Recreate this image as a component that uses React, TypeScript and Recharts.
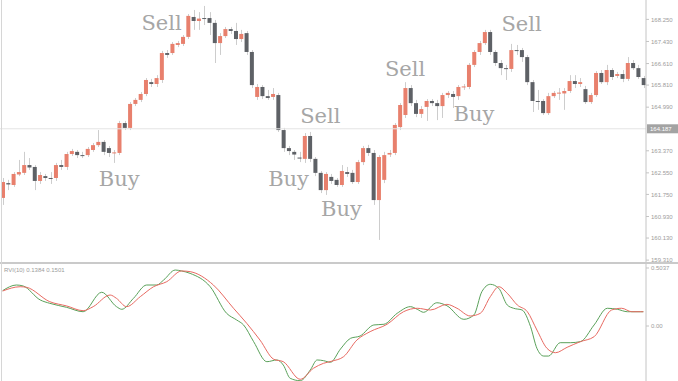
import { ComposedChart, Bar, XAxis, YAxis, ReferenceLine, ReferenceDot, LineChart, Line } from "recharts"

// candle prices, one entry per bar
const opens = [
  161.62, 162.17, 162.10, 162.49, 162.55, 162.84, 162.77, 162.25, 162.43, 162.36,
  162.36, 162.84, 162.77, 163.25, 163.33, 163.21, 163.21, 163.40, 163.58, 163.70,
  163.47, 163.29, 163.29, 164.40, 164.22, 165.11, 165.26, 165.48, 165.92, 165.85,
  166.00, 167.00, 167.00, 167.30, 167.34, 167.60, 168.34, 168.19, 168.30, 168.30,
  168.12, 167.37, 167.63, 167.89, 167.82, 167.52, 167.74, 167.04, 165.37, 165.74,
  165.40, 165.37, 165.44, 164.14, 163.47, 163.33, 163.12, 163.07, 163.92, 163.07,
  162.55, 161.91, 162.40, 162.29, 162.10, 162.58, 162.55, 162.21, 162.95, 163.47,
  163.29, 161.54, 162.29, 163.23, 163.29, 164.25, 164.70, 165.70, 165.14, 164.74,
  165.00, 165.22, 165.14, 165.03, 165.44, 165.48, 165.40, 165.74, 165.74, 166.56,
  167.04, 167.37, 167.78, 167.04, 166.63, 166.44, 166.41, 167.11, 167.11, 166.85,
  165.92, 165.22, 165.22, 164.77, 165.40, 165.52, 165.50, 165.59, 165.96, 165.85,
  165.66, 165.18, 165.44, 166.26, 165.92, 166.37, 166.15, 166.22, 166.04, 166.63,
  166.44, 166.07,
]
const closes = [
  162.21, 162.12, 162.51, 162.58, 162.84, 162.75, 162.25, 162.47, 162.36, 162.34,
  162.84, 162.77, 163.25, 163.36, 163.21, 163.20, 163.44, 163.58, 163.70, 163.33,
  163.29, 163.31, 164.40, 164.22, 165.11, 165.26, 165.48, 166.00, 165.85, 166.07,
  167.00, 166.93, 167.34, 167.37, 167.60, 168.38, 168.19, 168.28, 168.28, 168.12,
  167.37, 167.63, 167.89, 167.82, 167.52, 167.71, 167.04, 165.81, 165.74, 165.40,
  165.33, 165.48, 164.14, 163.47, 163.36, 163.23, 163.08, 163.92, 163.07, 162.55,
  161.91, 162.51, 162.25, 162.10, 162.62, 162.51, 162.21, 162.95, 163.47, 163.29,
  161.54, 163.14, 163.21, 163.29, 164.33, 165.07, 165.70, 165.14, 164.74, 164.92,
  165.22, 165.14, 165.03, 165.44, 165.52, 165.37, 165.74, 165.76, 166.56, 167.04,
  167.37, 167.78, 167.04, 166.63, 166.44, 166.41, 167.11, 167.09, 166.85, 165.92,
  165.22, 165.20, 164.77, 165.40, 165.52, 165.53, 165.59, 165.96, 165.85, 165.92,
  165.18, 165.44, 166.26, 165.92, 166.37, 166.11, 166.22, 166.04, 166.63, 166.44,
  166.11, 165.81,
]
const highs = [
  162.36, 162.29, 162.58, 163.03, 163.33, 163.10, 162.84, 162.58, 162.51, 162.58,
  162.92, 163.03, 163.33, 163.44, 163.40, 163.33, 163.51, 163.66, 164.14, 163.77,
  163.55, 163.40, 164.48, 164.48, 165.18, 165.33, 165.55, 166.07, 166.04, 166.18,
  167.08, 167.11, 167.41, 167.45, 167.67, 168.45, 168.60, 168.52, 168.75, 168.52,
  168.23, 167.74, 167.97, 167.97, 168.12, 167.86, 167.82, 167.11, 165.85, 165.81,
  165.63, 165.70, 165.52, 164.22, 163.55, 163.40, 163.33, 164.03, 164.07, 163.14,
  162.62, 162.58, 162.51, 162.36, 162.84, 162.77, 162.66, 163.03, 163.55, 163.59,
  163.40, 163.21, 163.33, 163.40, 164.40, 165.14, 165.92, 165.81, 165.26, 165.03,
  165.29, 165.29, 165.26, 165.52, 165.59, 165.59, 165.81, 165.85, 166.63, 167.11,
  167.45, 167.86, 167.86, 167.11, 166.74, 166.56, 167.34, 167.30, 167.19, 166.93,
  166.00, 165.63, 165.29, 165.52, 165.59, 165.70, 165.70, 166.18, 166.18, 166.07,
  165.78, 165.52, 166.33, 166.37, 166.56, 166.44, 166.30, 166.37, 166.85, 166.74,
  166.56, 166.15,
]
const lows = [
  161.36, 161.91, 162.03, 162.43, 162.47, 162.66, 161.91, 162.14, 162.25, 162.14,
  162.25, 162.66, 162.66, 163.18, 163.10, 163.10, 163.14, 163.33, 163.51, 163.21,
  163.14, 162.92, 163.21, 164.14, 164.14, 165.03, 165.18, 165.40, 165.74, 165.74,
  165.89, 166.82, 166.93, 167.22, 167.26, 167.52, 167.86, 167.86, 168.04, 167.67,
  166.63, 166.93, 167.56, 167.71, 167.30, 167.41, 166.93, 165.70, 165.26, 165.29,
  165.26, 165.26, 164.07, 163.33, 163.21, 163.03, 162.95, 162.92, 162.95, 162.43,
  161.80, 161.73, 162.14, 162.03, 162.03, 162.40, 162.14, 162.14, 162.84, 163.18,
  161.36, 160.06, 162.17, 163.14, 163.21, 164.14, 164.59, 165.03, 164.62, 164.59,
  164.48, 165.03, 164.51, 164.59, 165.33, 164.96, 165.26, 165.63, 165.66, 166.48,
  166.93, 167.30, 166.93, 166.52, 166.18, 166.00, 166.30, 166.93, 166.67, 165.81,
  164.81, 164.89, 164.70, 164.70, 165.33, 165.26, 164.89, 165.52, 165.70, 165.74,
  165.11, 165.11, 165.37, 165.85, 165.81, 166.00, 166.07, 165.92, 165.96, 166.37,
  166.04, 165.70,
]

const priceTicks = [159.31, 160.13, 160.93, 161.75, 162.55, 163.37, 164.99, 165.81, 166.61, 167.43, 168.25]
const lastPrice = 164.187

// Buy / Sell marks: text, bar index, price at the middle of the word
const signalText = ["Buy", "Sell", "Buy", "Sell", "Buy", "Sell", "Buy", "Sell"]
const signalBar = [22, 30, 54, 60, 64, 76, 89, 98]
const signalPrice = [162.35, 168.13, 162.34, 164.68, 161.21, 166.44, 164.77, 168.08]

// RVI(10) lines, sampled where the curves could be read (bar position, value)
const greenPos = [0, 2.6, 3.9, 7.1, 8.9, 12.1, 15.2, 18.7, 21.5, 22.5, 24.7, 27.2, 29.1, 30.4, 32.6, 33.8, 35.4, 39.2, 42.3, 44.2, 45.5, 47.4, 49.9, 51.8, 53, 54.3, 56.2, 58.1, 59.4, 60.6, 61.9, 63.8, 65.7, 67.5, 70.1, 72, 74.5, 77, 78.3, 79.5, 82, 83.9, 87.1, 89, 90.5, 92.1, 93.7, 95.3, 96.5, 98.1, 99.7, 100.9, 102.2, 103.1, 105.3, 107.2, 109.1, 111.7, 114.2, 116.1, 118, 120.5, 121]
const greenVal = [0.307, 0.356, 0.347, 0.226, 0.197, 0.162, 0.124, 0.293, 0.168, 0.145, 0.24, 0.356, 0.356, 0.399, 0.486, 0.478, 0.457, 0.341, 0.11, 0.052, 0.009, -0.136, -0.31, -0.295, -0.339, -0.454, -0.475, -0.382, -0.295, -0.301, -0.315, -0.2, -0.107, -0.087, 0.009, 0.015, 0.11, 0.168, 0.145, 0.119, 0.202, 0.176, 0.058, 0.096, 0.298, 0.362, 0.327, 0.182, 0.154, 0.139, -0.006, -0.194, -0.261, -0.261, -0.145, -0.145, -0.136, 0.009, 0.154, 0.145, 0.124, 0.124, 0.124]
const redPos = [0, 3.3, 4.5, 8.9, 12.1, 15.2, 17.1, 20.3, 21.5, 23.4, 26, 28.5, 31, 33.8, 35.4, 39.8, 43.6, 46.1, 48.6, 51.2, 53, 56.2, 58.7, 60.6, 62.2, 64.4, 66.9, 69.4, 72.6, 75.7, 78.3, 80.8, 83.9, 85.8, 88.3, 90.2, 92.1, 93.7, 95.3, 97.2, 99.1, 100.9, 102.8, 104.4, 106.6, 109.1, 111.7, 115, 116.9, 118.8, 120.5, 121]
const redVal = [0.304, 0.341, 0.336, 0.211, 0.174, 0.133, 0.168, 0.269, 0.24, 0.168, 0.255, 0.341, 0.385, 0.478, 0.472, 0.356, 0.154, 0.023, -0.122, -0.289, -0.31, -0.463, -0.367, -0.324, -0.305, -0.266, -0.122, -0.049, 0.015, 0.124, 0.154, 0.139, 0.188, 0.154, 0.087, 0.11, 0.255, 0.341, 0.284, 0.182, 0.124, -0.035, -0.194, -0.232, -0.185, -0.136, -0.093, 0.139, 0.154, 0.124, 0.124, 0.124]

const BULL = "#e8806d"
const BEAR = "#5e6166"
const WICK = "#cdcdcd"
const AXIS_GREY = "#c4c4c4"
const LABEL_GREY = "#9c9c9c"

const candles = opens.map((open, i) => ({ i, open, close: closes[i], high: highs[i], low: lows[i] }))
const greenData = greenPos.map((pos, k) => ({ pos, v: greenVal[k] }))
const redData = redPos.map((pos, k) => ({ pos, v: redVal[k] }))

const tickStyle = { fontSize: 6, fill: LABEL_GREY, fontFamily: "Liberation Sans" }

function Candle(props: any) {
  const { x, y, width, height, payload } = props
  if (x == null || !payload) return null
  const { open, close, high, low } = payload
  const h = Math.abs(height)
  const top = Math.min(y, y + height)
  const ppu = h / (high - low || 1)
  const bodyTop = top + (high - Math.max(open, close)) * ppu
  const bodyH = Math.max(1, Math.abs(open - close) * ppu)
  const cx = Math.round(x + width / 2) + 0.5
  return (
    <g>
      <line x1={cx} x2={cx} y1={top} y2={top + h} stroke={WICK} strokeWidth={1} />
      <rect x={x} y={bodyTop} width={width} height={bodyH} fill={close >= open ? BULL : BEAR} />
    </g>
  )
}

function PriceTag(props: any) {
  const vb = props.viewBox
  if (!vb) return null
  const left = vb.x + vb.width + 1
  return (
    <g>
      <rect x={left} y={vb.y - 4.5} width={31} height={9} fill="#a3a3a3" />
      <text x={left + 3} y={vb.y + 2} fontSize={6} fill="#ffffff" fontFamily="Liberation Sans">
        {lastPrice.toFixed(3)}
      </text>
    </g>
  )
}

export default function App() {
  return (
    <div style={{ position: "absolute", left: 0, top: 0, width: 678, height: 381, background: "#fff", overflow: "hidden" }}>
      <ComposedChart width={678} height={262} data={candles} margin={{ top: 0, right: 0, bottom: 0, left: 0 }}>
        <XAxis dataKey="i" hide />
        <YAxis
          orientation="right"
          width={32}
          domain={[159.24, 168.97]}
          allowDataOverflow
          ticks={priceTicks}
          interval={0}
          tickFormatter={(v: number) => v.toFixed(3)}
          tick={tickStyle}
          tickSize={3}
          tickLine={{ stroke: AXIS_GREY }}
          axisLine={{ stroke: AXIS_GREY }}
        />
        <ReferenceLine y={lastPrice} stroke="#e4e4e4" label={<PriceTag />} />
        <Bar
          dataKey={(d: any) => [d.low, d.high]}
          barSize={4}
          shape={<Candle />}
          isAnimationActive={false}
        />
        {signalText.map((t, k) => (
          <ReferenceDot
            key={k}
            x={signalBar[k]}
            y={signalPrice[k]}
            r={0}
            fill="none"
            stroke="none"
            label={{ value: t, position: "center", fill: "#a6a6a6", fontSize: 21, fontFamily: "DejaVu Serif" }}
          />
        ))}
      </ComposedChart>
      <div style={{ position: "absolute", left: 0, top: 262, width: 678, height: 2, background: "#cacaca" }} />
      <div style={{ position: "absolute", left: 1, top: 0, width: 1, height: 381, background: "#d6d6d6" }} />
      <div style={{ position: "absolute", top: 264, left: 0 }}>
        <LineChart width={678} height={117} margin={{ top: 0, right: 0, bottom: 0, left: 0 }}>
          <XAxis type="number" dataKey="pos" domain={[-0.5, 121.5]} allowDataOverflow hide />
          <YAxis
            orientation="right"
            width={32}
            domain={[-0.4776, 0.5384]}
            allowDataOverflow
            ticks={[0, 0.5037]}
            interval={0}
            tickFormatter={(v: number) => (v === 0 ? "0.00" : v.toFixed(4))}
            tick={tickStyle}
            tickSize={3}
            tickLine={{ stroke: AXIS_GREY }}
            axisLine={{ stroke: AXIS_GREY }}
          />
          <Line data={greenData} dataKey="v" type="monotone" stroke="#5aa15a" strokeWidth={1} dot={false} isAnimationActive={false} />
          <Line data={redData} dataKey="v" type="monotone" stroke="#e86a62" strokeWidth={1} dot={false} isAnimationActive={false} />
        </LineChart>
        <div style={{ position: "absolute", left: 4, top: 3, fontSize: 6, color: LABEL_GREY, fontFamily: "Liberation Sans", whiteSpace: "nowrap" }}>
          RVI(10) 0.1384 0.1501
        </div>
      </div>
    </div>
  )
}
